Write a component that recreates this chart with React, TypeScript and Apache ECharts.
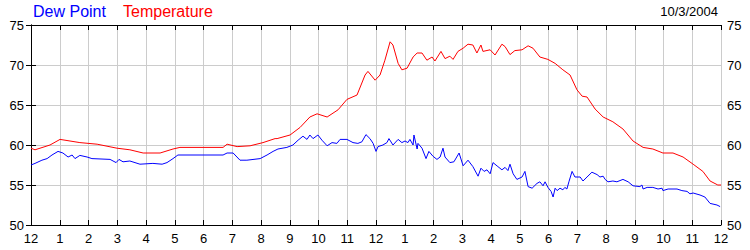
import React, { useEffect, useRef } from "react";
import * as echarts from "echarts";

const hourTicks = [0, 24];
const yRange = [50, 75];
const legendNames = ["Dew Point", "Temperature"];
const dateLabel = "10/3/2004";

const temperature: [number, number][] = [
  [0, 59.6], [0.14, 59.4], [0.66, 60.0], [1.01, 60.7], [1.7, 60.3], [2.3, 60.1], [2.99, 59.6], [3.44, 59.4],
  [3.9, 59.0], [4.49, 59.0], [4.94, 59.5], [5.18, 59.7], [6.68, 59.7], [6.82, 60.1], [7.17, 59.8], [7.62, 59.9],
  [8.07, 60.3], [8.49, 60.8], [8.56, 60.8], [9.01, 61.25], [9.36, 62.2], [9.7, 63.5], [9.95, 63.9], [10.3, 63.5],
  [10.68, 64.4], [10.99, 65.7], [11.34, 66.25], [11.62, 68.75], [11.72, 69.2], [11.97, 68.1], [12.14, 68.75],
  [12.31, 70.6], [12.49, 72.9], [12.59, 72.5], [12.77, 70.2], [12.9, 69.4], [13.08, 69.6], [13.29, 71.0],
  [13.43, 71.5], [13.6, 71.5], [13.77, 70.6], [13.95, 71.0], [14.05, 70.5], [14.26, 71.7], [14.4, 70.8],
  [14.57, 71.1], [14.68, 70.7], [14.85, 71.7], [15.03, 72.1], [15.2, 72.6], [15.37, 72.5], [15.51, 71.5],
  [15.65, 72.5], [15.72, 71.7], [15.97, 71.9], [16.14, 71.25], [16.38, 72.6], [16.49, 72.3], [16.66, 71.3],
  [16.83, 71.8], [17.08, 71.9], [17.29, 72.4], [17.46, 72.1], [17.7, 71.0], [17.98, 70.7], [18.23, 70.2],
  [18.5, 69.4], [18.75, 68.75], [18.99, 66.9], [19.17, 66.1], [19.34, 66.0], [19.62, 64.5], [19.9, 63.5],
  [20.24, 62.9], [20.59, 62.0], [20.94, 60.5], [21.29, 59.7], [21.63, 59.5], [21.98, 59.0], [22.33, 59.0],
  [22.68, 58.5], [23.03, 57.6], [23.37, 56.7], [23.62, 55.5], [23.89, 55.0], [24, 55.0],
];

const dewPoint: [number, number][] = [
  [0, 57.5], [0.14, 57.7], [0.38, 58.1], [0.56, 58.3], [0.73, 58.75], [0.94, 59.2], [1.11, 59.0], [1.29, 58.5],
  [1.43, 58.75], [1.53, 58.3], [1.7, 58.7], [1.95, 58.5], [2.12, 58.3], [2.75, 58.2], [2.96, 57.8], [3.06, 58.2],
  [3.2, 57.9], [3.44, 58.0], [3.79, 57.6], [4.24, 57.7], [4.56, 57.6], [4.73, 57.8], [4.94, 58.3], [5.11, 58.75],
  [6.68, 58.75], [6.82, 59.0], [7.03, 59.0], [7.27, 58.1], [7.51, 58.1], [7.97, 58.3], [8.21, 58.75], [8.42, 59.2],
  [8.59, 59.5], [8.9, 59.7], [9.11, 60.0], [9.29, 60.6], [9.46, 61.1], [9.6, 60.7], [9.7, 61.25], [9.81, 60.8],
  [9.98, 61.25], [10.12, 60.6], [10.3, 59.9], [10.47, 60.3], [10.64, 60.2], [10.75, 60.7], [10.99, 60.7],
  [11.2, 60.3], [11.37, 60.2], [11.51, 60.4], [11.65, 61.3], [11.79, 60.8], [11.9, 60.2], [12.0, 59.2],
  [12.07, 59.8], [12.24, 60.0], [12.38, 60.3], [12.45, 60.8], [12.59, 60.0], [12.77, 60.7], [12.9, 60.3],
  [13.01, 60.5], [13.11, 60.3], [13.18, 60.7], [13.29, 60.0], [13.32, 61.25], [13.43, 59.5], [13.46, 60.2],
  [13.6, 59.6], [13.74, 58.3], [13.84, 59.2], [13.98, 58.6], [14.12, 58.2], [14.23, 58.5], [14.33, 59.6],
  [14.4, 58.5], [14.57, 57.8], [14.71, 57.9], [14.89, 59.0], [15.03, 57.4], [15.2, 58.1], [15.37, 57.3],
  [15.55, 56.1], [15.65, 57.1], [15.76, 56.7], [15.86, 56.9], [15.97, 56.4], [16.07, 57.8], [16.24, 57.3],
  [16.38, 56.9], [16.49, 57.2], [16.59, 56.8], [16.66, 57.6], [16.77, 56.4], [16.9, 55.7], [17.08, 56.0],
  [17.18, 56.7], [17.29, 54.8], [17.43, 54.6], [17.6, 55.2], [17.7, 55.4], [17.81, 54.9], [17.88, 55.4],
  [17.98, 54.7], [18.09, 54.2], [18.16, 53.5], [18.23, 54.6], [18.3, 54.3], [18.4, 54.6], [18.5, 54.4],
  [18.57, 54.7], [18.64, 54.5], [18.71, 55.4], [18.82, 56.7], [18.92, 56.0], [19.1, 56.0], [19.2, 55.5],
  [19.34, 56.0], [19.51, 56.6], [19.69, 56.3], [19.79, 56.0], [19.9, 56.1], [19.97, 55.7], [20.07, 55.4],
  [20.24, 55.5], [20.38, 55.4], [20.59, 55.7], [20.77, 55.4], [20.94, 54.9], [21.18, 54.8], [21.25, 55.0],
  [21.29, 54.5], [21.43, 54.7], [21.63, 54.7], [21.81, 54.5], [21.95, 54.6], [21.98, 54.3], [22.16, 54.5],
  [22.47, 54.5], [22.64, 54.3], [22.82, 54.2], [22.92, 53.9], [23.03, 54.0], [23.27, 53.75], [23.44, 53.5],
  [23.62, 52.7], [23.86, 52.5], [23.97, 52.3],
];

const FONT = "Liberation Sans, Arial, sans-serif";

export default function App() {
  const ref = useRef<HTMLDivElement>(null);
  useEffect(() => {
    if (!ref.current) return;
    const chart = echarts.init(ref.current, undefined, { renderer: "svg" });
    const axisLine = { show: true, lineStyle: { color: "#000", width: 1 } };
    const tick = { show: true, inside: true, length: 5, lineStyle: { color: "#000" } };
    const grid = { show: true, lineStyle: { color: "#cccccc", width: 1 } };
    const label = { color: "#000", fontFamily: FONT, fontSize: 13 };
    chart.setOption({
      animation: false,
      backgroundColor: "#fff",
      grid: { left: 31, right: 29, top: 25, bottom: 25, containLabel: false },
      graphic: [
        { type: "text", left: 33, top: 3, style: { text: legendNames[0], fill: "#0000ff", font: `16px ${FONT}` } },
        { type: "text", left: 123, top: 3, style: { text: legendNames[1], fill: "#ff0000", font: `16px ${FONT}` } },
        { type: "text", right: 32, top: 5, style: { text: dateLabel, fill: "#000", font: `13px ${FONT}` } },
      ],
      xAxis: [
        {
          type: "value", min: hourTicks[0], max: hourTicks[1], interval: 1, position: "bottom",
          axisLine, axisTick: tick, splitLine: grid,
          axisLabel: { ...label, margin: 7, formatter: (v: number) => String(v % 12 === 0 ? 12 : v % 12) },
        },
        {
          type: "value", min: hourTicks[0], max: hourTicks[1], interval: 1, position: "top",
          axisLine, axisTick: tick, splitLine: { show: false }, axisLabel: { show: false },
        },
      ],
      yAxis: [
        {
          type: "value", min: yRange[0], max: yRange[1], interval: 5, position: "left",
          axisLine, axisTick: tick, splitLine: grid, axisLabel: { ...label, margin: 7 },
        },
        {
          type: "value", min: yRange[0], max: yRange[1], interval: 5, position: "right",
          axisLine, axisTick: tick, splitLine: { show: false }, axisLabel: { ...label, margin: 6 },
        },
      ],
      series: [
        {
          name: legendNames[0], type: "line", data: dewPoint, showSymbol: false, symbol: "none",
          lineStyle: { color: "#0000ff", width: 1 }, xAxisIndex: 0, yAxisIndex: 0, silent: true,
        },
        {
          name: legendNames[1], type: "line", data: temperature, showSymbol: false, symbol: "none",
          lineStyle: { color: "#ff0000", width: 1 }, xAxisIndex: 0, yAxisIndex: 0, silent: true,
        },
      ],
    });
    return () => chart.dispose();
  }, []);
  return <div ref={ref} style={{ position: "fixed", left: 0, top: 0, width: 750, height: 250 }} />;
}
